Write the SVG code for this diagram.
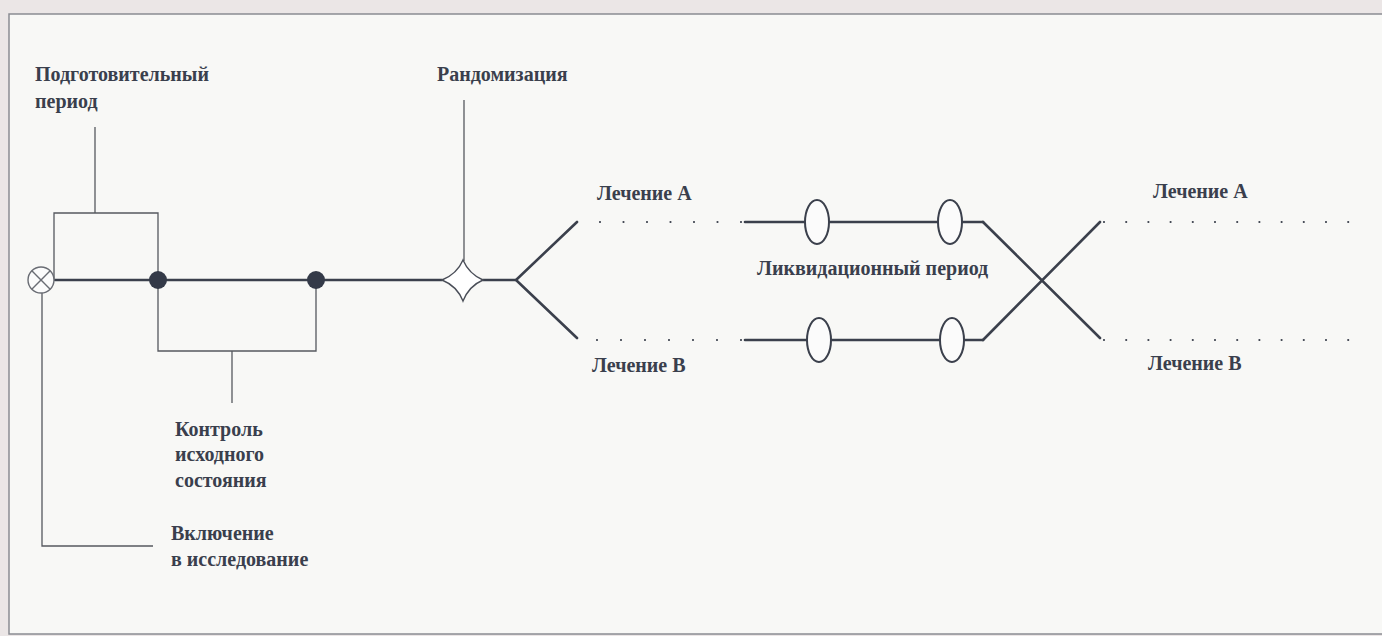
<svg xmlns="http://www.w3.org/2000/svg" width="1382" height="636" viewBox="0 0 1382 636">
<style>
.bg{fill:#f8f8f6}
.frame{fill:none;stroke:#8a8c92;stroke-width:1.5}
.thick{fill:none;stroke:#3b404c;stroke-width:2.6;stroke-linecap:round}
.thin{fill:none;stroke:#55585f;stroke-width:1.3}
.dots{fill:none;stroke:#3b404c;stroke-width:2.2;stroke-linecap:round}
.lbl{font-family:"Liberation Serif","Times New Roman",serif;font-weight:bold;font-size:20px;fill:#3a3f4d}
.dot{fill:#343a48}
.ell{fill:#fbfbfb;stroke:#3b404c;stroke-width:2}
</style>
<rect x="0" y="0" width="1382" height="636" fill="#ebe6e6"/>
<rect class="bg" x="9" y="14" width="1373" height="620"/>
<path class="frame" d="M1382 14 H9 V634 H1382"/>

<g id="connectors">
  <!-- main timeline -->
  <line class="thick" x1="55" y1="280" x2="442" y2="280"/>
  <line class="thick" x1="483" y1="280" x2="516" y2="280"/>
  <polyline class="thick" points="577,222 516,280 577,338"/>
  <!-- treatment lines -->
  <line class="thick" x1="745" y1="222" x2="805" y2="222"/>
  <line class="thick" x1="830" y1="222" x2="938" y2="222"/>
  <line class="thick" x1="962" y1="222" x2="983" y2="222"/>
  <line class="thick" x1="745" y1="340" x2="807" y2="340"/>
  <line class="thick" x1="832" y1="340" x2="940" y2="340"/>
  <line class="thick" x1="964" y1="340" x2="983" y2="340"/>
  <!-- crossover -->
  <line class="thick" x1="983" y1="222" x2="1100" y2="338"/>
  <line class="thick" x1="983" y1="340" x2="1100" y2="222"/>
  <!-- dotted segments -->
  <line class="dots" x1="600" y1="222" x2="743" y2="222" stroke-dasharray="0 23.5"/>
  <line class="dots" x1="597" y1="340" x2="743" y2="340" stroke-dasharray="0 24"/>
  <line class="dots" x1="1104" y1="222" x2="1352" y2="222" stroke-dasharray="0 22.2"/>
  <line class="dots" x1="1104" y1="340" x2="1352" y2="340" stroke-dasharray="0 22.2"/>
  <!-- brackets -->
  <polyline class="thin" points="54,280 54,213 158,213 158,280"/>
  <line class="thin" x1="95" y1="127" x2="95" y2="213"/>
  <polyline class="thin" points="158,280 158,351 316,351 316,280"/>
  <line class="thin" x1="232" y1="351" x2="232" y2="403"/>
  <polyline class="thin" points="42,293 42,546 153,546"/>
  <line class="thin" x1="464" y1="100" x2="464" y2="261"/>
</g>

<g id="inclusion-node">
  <circle cx="41" cy="280" r="13" fill="#fbfbfb" stroke="#6a6d74" stroke-width="1.4"/>
  <line x1="31.8" y1="270.8" x2="50.2" y2="289.2" stroke="#6a6d74" stroke-width="1.4"/>
  <line x1="50.2" y1="270.8" x2="31.8" y2="289.2" stroke="#6a6d74" stroke-width="1.4"/>
</g>
<g id="baseline-start"><circle class="dot" cx="158" cy="280" r="9"/></g>
<g id="baseline-end"><circle class="dot" cx="316" cy="280" r="9"/></g>
<g id="randomization-node">
  <path d="M463 260 Q469 274 483 280 Q469 286 463 301 Q457 286 442 280 Q457 274 463 260 Z" fill="#ffffff" stroke="#4a4e58" stroke-width="1.4"/>
</g>
<g id="washout-a1"><ellipse class="ell" cx="817" cy="222" rx="12" ry="22"/></g>
<g id="washout-a2"><ellipse class="ell" cx="950" cy="222" rx="12" ry="22"/></g>
<g id="washout-b1"><ellipse class="ell" cx="819" cy="340" rx="12" ry="22"/></g>
<g id="washout-b2"><ellipse class="ell" cx="952" cy="340" rx="12" ry="22"/></g>

<g id="labels">
  <text class="lbl" x="35" y="81">Подготовительный</text>
  <text class="lbl" x="35" y="108">период</text>
  <text class="lbl" x="437" y="81">Рандомизация</text>
  <text class="lbl" x="597" y="200">Лечение А</text>
  <text class="lbl" x="592" y="372">Лечение В</text>
  <text class="lbl" x="757" y="275">Ликвидационный период</text>
  <text class="lbl" x="1153" y="198">Лечение А</text>
  <text class="lbl" x="1148" y="370">Лечение В</text>
  <text class="lbl" x="175" y="436">Контроль</text>
  <text class="lbl" x="175" y="461">исходного</text>
  <text class="lbl" x="175" y="487">состояния</text>
  <text class="lbl" x="171" y="540">Включение</text>
  <text class="lbl" x="171" y="566">в исследование</text>
</g>
</svg>
